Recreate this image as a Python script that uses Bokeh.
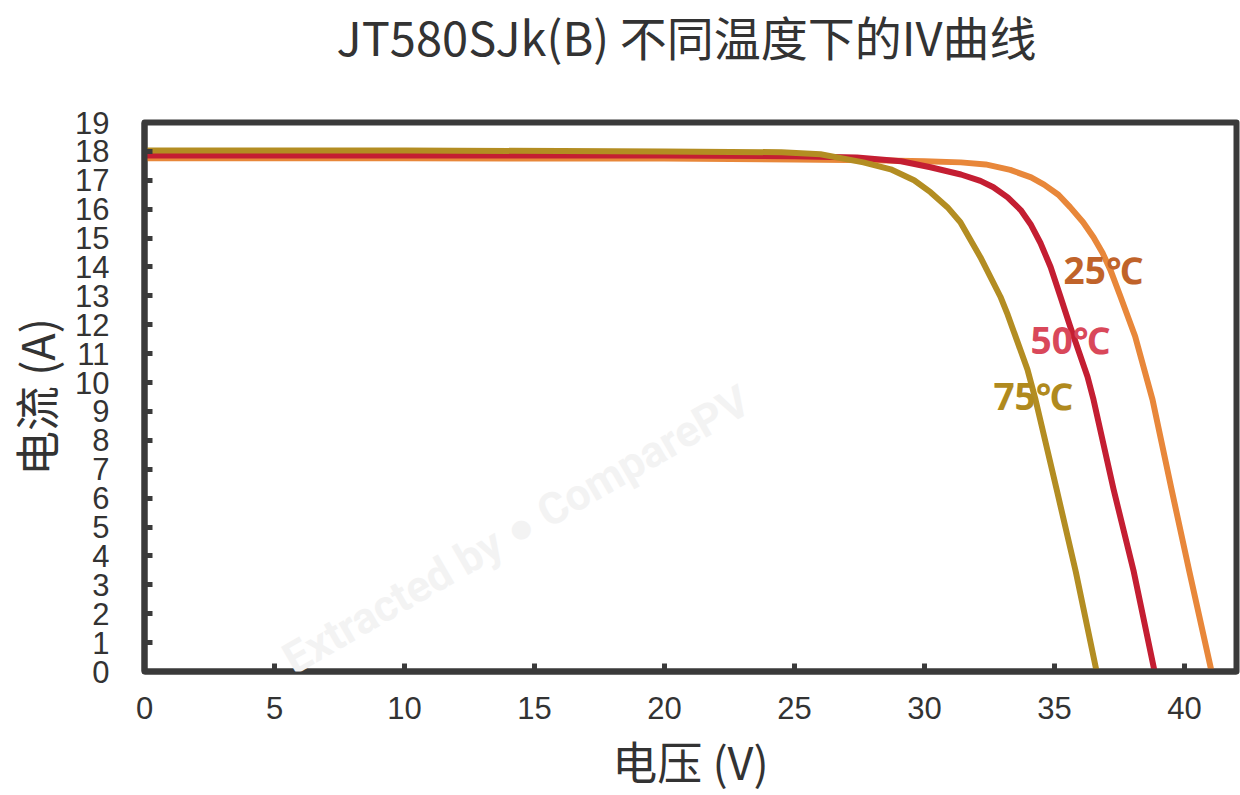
from bokeh.plotting import figure
from bokeh.models import Range1d, FixedTicker, Label
from bokeh.layouts import column
from bokeh.core.properties import value
from bokeh.embed import file_html
from bokeh.resources import INLINE

# ---- data ----
v_25 = [0, 10, 20, 25, 28, 30, 31.4, 32.35, 33.3, 34.1, 34.6, 35.15, 35.6, 36.1, 36.5, 36.85,
        37.15, 37.54, 38.1, 38.77, 39.5, 40.19, 41.04]
i_25 = [17.76, 17.76, 17.75, 17.72, 17.69, 17.66, 17.62, 17.55, 17.36, 17.1, 16.85, 16.5, 16.07,
        15.55, 15.03, 14.48, 13.9, 12.97, 11.6, 9.41, 6.31, 3.45, 0.0]

v_50 = [0, 10, 20, 25, 27.4, 29.1, 30.23, 31.4, 32.15, 32.65, 33.2, 33.7, 34.1, 34.46, 34.85,
        35.23, 35.6, 36.27, 36.5, 37.27, 38.05, 38.85]
i_50 = [17.86, 17.86, 17.86, 17.83, 17.79, 17.66, 17.45, 17.2, 16.98, 16.76, 16.41, 15.97, 15.45,
        14.83, 14.0, 12.97, 11.95, 10.2, 9.41, 6.31, 3.45, 0.0]

v_75 = [0, 10, 20, 24.5, 26.0, 27.65, 28.7, 29.6, 30.23, 30.88, 31.38, 32.15, 32.92, 33.2,
        33.96, 34.27, 35.08, 35.82, 36.62]
i_75 = [18.03, 18.03, 18.0, 17.97, 17.9, 17.62, 17.38, 17.0, 16.59, 16.07, 15.55, 14.34, 12.97,
        12.35, 10.45, 9.41, 6.31, 3.45, 0.0]

series_names = ["25℃", "50℃", "75℃"]
line_colors = ["#e8873a", "#c41e32", "#b38d22"]
label_colors = ["#c0632a", "#d9485a", "#b08a1e"]

x_ticks = [0, 5, 10, 15, 20, 25, 30, 35, 40]
y_ticks = list(range(0, 20))

title_text = "JT580SJk(B)  不同温度下的IV曲线"
x_label = "电压 (V)"
y_label = "电流 (A)"

CJK = "Noto Sans CJK SC"
TICKFONT = "Liberation Sans"
DARK = "#3a3a3a"
TXT = "#333333"

W = 1240
TH = 84             # height of the title strip
MH = 795 - TH       # height of the main chart
X_MAX, Y_MAX = 42, 19

# ---- title strip (shares the chart's horizontal geometry) ----
pt = figure(width=W, height=TH, output_backend="svg", toolbar_location=None,
            x_range=Range1d(0, X_MAX), y_range=Range1d(0, TH),
            x_axis_type=None, y_axis_type=None,
            min_border_left=144, min_border_right=4, min_border_top=0, min_border_bottom=0)
pt.grid.visible = False
pt.outline_line_color = None
pt.text(x=[21.05], y=[TH - 35], text=[title_text], text_align="center", text_baseline="middle",
        text_font=value(CJK), text_font_size="47px", text_color=TXT)

# ---- main chart ----
p = figure(width=W, height=MH, output_backend="svg", toolbar_location=None,
           x_range=Range1d(0, X_MAX), y_range=Range1d(0, Y_MAX),
           min_border_left=144, min_border_right=4, min_border_top=122 - TH,
           min_border_bottom=122)

p.grid.visible = False
p.background_fill_color = "white"
p.border_fill_color = "white"
p.outline_line_color = DARK
p.outline_line_width = 6
p.outline_line_join = "round"

for ax in (p.xaxis[0], p.yaxis[0]):
    ax.axis_line_color = DARK
    ax.axis_line_width = 6
    ax.major_tick_line_color = DARK
    ax.major_tick_line_width = 5
    ax.major_tick_in = 8
    ax.major_tick_out = 0
    ax.minor_tick_line_color = None
    ax.major_label_text_font = TICKFONT
    ax.major_label_text_font_size = "31px"
    ax.major_label_text_color = TXT
    ax.axis_label_text_font = CJK
    ax.axis_label_text_font_size = "45px"
    ax.axis_label_text_font_style = "normal"
    ax.axis_label_text_color = TXT

p.xaxis.ticker = FixedTicker(ticks=x_ticks)
p.yaxis.ticker = FixedTicker(ticks=y_ticks)
p.xaxis.axis_label = x_label
p.yaxis.axis_label = y_label
p.xaxis.major_label_standoff = 25
p.yaxis.major_label_standoff = 35
p.xaxis.axis_label_standoff = 6
p.yaxis.axis_label_standoff = 4

# watermark
p.add_layout(Label(x=14.3, y=4.9, text="Extracted by ● ComparePV", angle=30, angle_units="deg",
                   text_align="center", text_baseline="middle", text_font="Roboto",
                   text_font_style="bold", text_font_size="44px", text_color="#f3f3f3"))

curves = [(v_25, i_25), (v_50, i_50), (v_75, i_75)]
for (vv, ii), c in zip(curves, line_colors):
    p.line(vv, ii, line_color=c, line_width=6, line_cap="round", line_join="round")

label_pos = [(35.35, 13.9), (34.08, 11.5), (32.65, 9.55)]
for name, col, (lx, ly) in zip(series_names, label_colors, label_pos):
    p.add_layout(Label(x=lx, y=ly, text=name, text_align="left", text_baseline="middle",
                       text_font="Noto Sans", text_font_style="bold", text_font_size="37px",
                       text_color=col))

layout = column(pt, p, spacing=0)
open("out.html", "w").write(file_html(layout, INLINE))
